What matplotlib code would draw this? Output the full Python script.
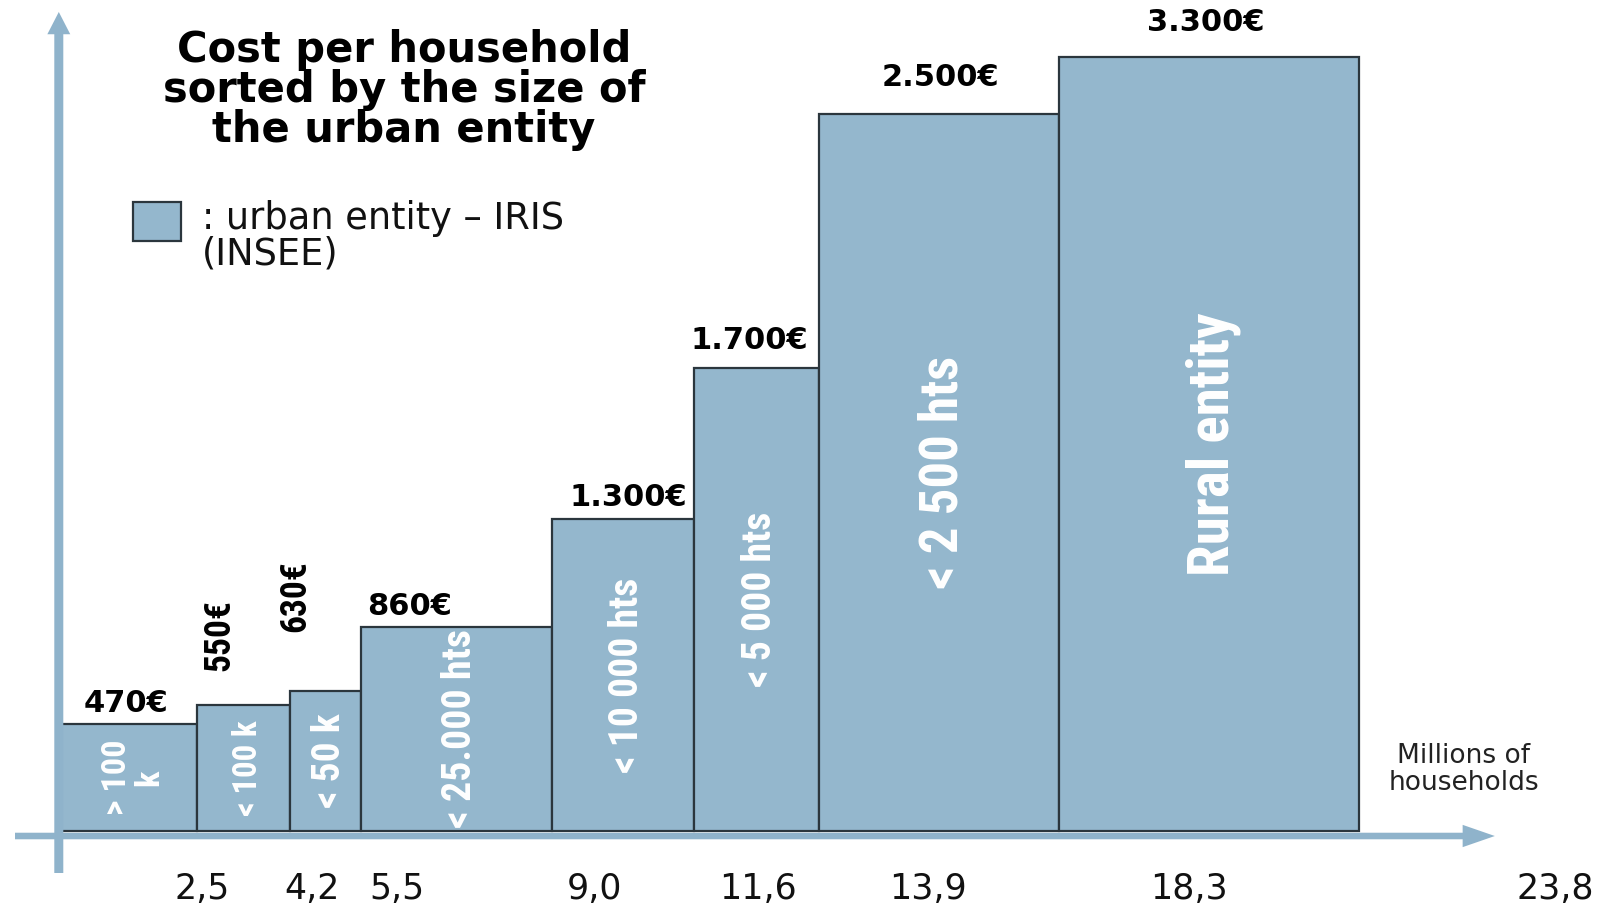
import matplotlib
matplotlib.use('Agg')
import matplotlib.pyplot as plt
from matplotlib.patches import Rectangle
import numpy as np

# millions of households in each class of urban entity
households = [2.5, 1.7, 1.3, 3.5, 2.6, 2.3, 4.4, 5.5]
# bar heights as they are drawn in the source picture (it is not to scale above 1.300€)
bar_height = [458, 537, 597, 870, 1330, 1974, 3055, 3300]
cost_labels = ['470€', '550€', '630€', '860€', '1.300€', '1.700€', '2.500€', '3.300€']
class_labels = ['> 100\nk', '< 100 k', '< 50 k', '< 25.000 hts', '< 10 000 hts',
                '< 5 000 hts', '< 2 500 hts', 'Rural entity']

cum = np.cumsum(households)
lefts = cum - np.array(households)
centers = lefts + np.array(households) / 2
tick_labels = [f'{v:.1f}'.replace('.', ',') for v in cum]

bar_color = '#94b7cd'
edge_color = '#2b363d'
axis_color = '#8fb3cb'
narrow = ['DejaVu Sans Condensed', 'Noto Sans ExtraCondensed', 'Noto Sans Condensed',
          'Liberation Sans Narrow', 'Roboto Condensed', 'Roboto', 'DejaVu Sans']

fig = plt.figure(figsize=(16.03, 9.07), dpi=100)
ax = fig.add_axes([0, 0, 1, 1])
ax.set_xlim(-1.118, 28.27)
ax.set_ylim(-324, 3543)
ax.axis('off')

ax.bar(lefts, bar_height, width=households, align='edge', color=bar_color,
       edgecolor=edge_color, linewidth=1.6, zorder=2)

# axes drawn as arrows like in the original slide
ax.arrow(-0.04, -179, 0, 3671, width=0.165, head_width=0.42, head_length=95,
         length_includes_head=True, color=axis_color, lw=0, zorder=4)
ax.arrow(-0.843, -21.3, 27.13, 0, width=28, head_width=95, head_length=0.59,
         length_includes_head=True, color=axis_color, lw=0, zorder=4)

fits = []  # (text, wanted length in pixels) for the narrow labels

# cost labels above the bars
label_dx = [-3, -24, -30, -47, 6, -7, 1, -3]
label_dy = [20, 70, 95, 20, 22, 28, 37, 34]
for i, txt in enumerate(cost_labels):
    if i in (1, 2):
        t = ax.annotate(txt, xy=(centers[i], bar_height[i]), xytext=(label_dx[i], label_dy[i]),
                        textcoords='offset pixels', ha='center', va='center', rotation=90,
                        fontsize=22, fontweight='bold', family=narrow, fontstretch='condensed')
        fits.append((t, 72))
    else:
        ax.annotate(txt, xy=(centers[i], bar_height[i]), xytext=(label_dx[i], label_dy[i]),
                    textcoords='offset pixels', ha='center', va='center',
                    fontsize=22, fontweight='bold')

# class names inside the bars
inner_len = [76, 96, 95, 200, 196, 176, 234, 264]
for i, txt in enumerate(class_labels):
    t = ax.annotate(txt, xy=(centers[i], bar_height[i] / 2), xytext=(4, 0),
                    textcoords='offset pixels', ha='center', va='center', rotation=90,
                    color='white', fontsize=24, fontweight='bold', family=narrow,
                    fontstretch='condensed', linespacing=1.0)
    fits.append((t, inner_len[i]))

# x tick labels, drawn to the right of the bar edges as in the source
tick_dx = [5, 22, 36, 43, 64, 109, 130, 196]
for v, t, dx in zip(cum, tick_labels, tick_dx):
    ax.annotate(t, xy=(v, -247), xytext=(dx, 0), textcoords='offset pixels',
                ha='center', va='center', fontsize=25, color='#111111')

ax.text(25.72, 264, 'Millions of\nhouseholds', ha='center', va='center', fontsize=19,
        color='#222222', linespacing=1.05)

fig.text(404 / 1603, 1 - 90 / 907, 'Cost per household\nsorted by the size of\nthe urban entity',
         ha='center', va='center', fontsize=30, fontweight='bold', linespacing=0.95)

fig.patches.append(Rectangle((133 / 1603, 1 - 241 / 907), 48 / 1603, 39 / 907,
                             transform=fig.transFigure, facecolor=bar_color,
                             edgecolor=edge_color, linewidth=1.6))
fig.text(202 / 1603, 1 - 236 / 907, ': urban entity – IRIS\n(INSEE)', ha='left', va='center',
         fontsize=26.5, linespacing=0.95, color='#111111')

# fit the rotated labels to the lengths they have in the source
fig.canvas.draw()
r = fig.canvas.get_renderer()
for t, target in fits:
    h = t.get_window_extent(r).height
    t.set_fontsize(t.get_fontsize() * target / h)

fig.savefig('out.png', dpi=100)
